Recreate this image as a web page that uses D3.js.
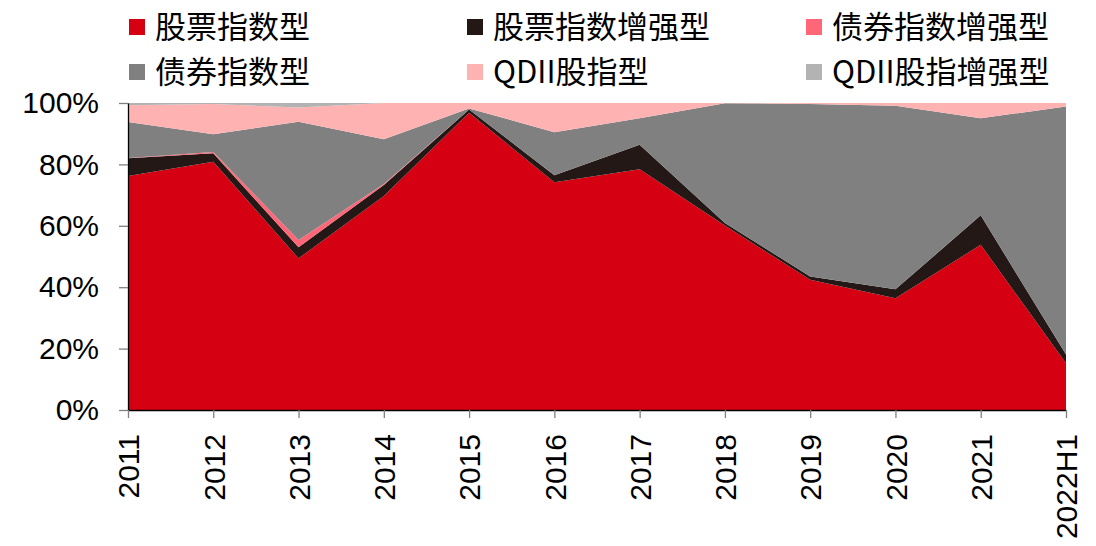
<!DOCTYPE html>
<html>
<head>
<meta charset="utf-8">
<script src="https://cdn.jsdelivr.net/npm/d3@7"></script>
<style>
  html, body { margin: 0; padding: 0; background: #fff; }
  svg { display: block; }
</style>
</head>
<body>
<div id="chart"></div>
<script>
// 年份
var years = ['2011','2012','2013','2014','2015','2016','2017','2018','2019','2020','2021','2022H1'];

// 各类型占比(%)
var stockIndex      = [76.2, 80.9, 49.4, 69.7, 96.8, 74.2, 78.4, 60.1, 42.4, 36.4, 53.8, 15.2];
var stockEnhanced   = [5.8, 2.7, 3.6, 3.6, 1.1, 2.3, 8.0, 0.8, 1.1, 2.9, 9.6, 2.9];
var bondEnhanced    = [0.1, 0.4, 2.4, 0.3, 0, 0, 0, 0, 0, 0, 0, 0];
var bondIndex       = [11.7, 5.8, 38.5, 14.6, 0.3, 14.0, 8.6, 39.0, 56.2, 59.8, 31.6, 80.8];
var qdiiIndex       = [5.5, 9.9, 4.6, 11.8, 1.8, 9.5, 5.0, 0.1, 0.3, 0.9, 5.0, 1.1];
var qdiiEnhanced    = [0.7, 0.3, 1.5, 0, 0, 0, 0, 0, 0, 0, 0, 0];

var seriesNames = ['股票指数型','股票指数增强型','债券指数增强型','债券指数型','QDII股指型','QDII股指增强型'];
var seriesValues = [stockIndex, stockEnhanced, bondEnhanced, bondIndex, qdiiIndex, qdiiEnhanced];
var colors = ['#d50011','#231815','#ff6677','#808080','#ffb2b2','#b3b3b3'];

var yTicks = [0, 0.2, 0.4, 0.6, 0.8, 1];

var width = 1096;
var height = 546;
var plotLeft = 128, plotRight = 1066, plotTop = 103, plotBottom = 410;

var svg = d3.select('#chart').append('svg')
    .attr('width', width)
    .attr('height', height);

// 组装成 stack 需要的表
var table = years.map(function(y, i) {
  var row = { year: y };
  seriesNames.forEach(function(name, k) { row[name] = seriesValues[k][i]; });
  return row;
});

var stack = d3.stack()
    .keys(seriesNames)
    .offset(d3.stackOffsetExpand);
var layers = stack(table);

var xScale = d3.scalePoint()
    .domain(years)
    .range([plotLeft, plotRight])
    .padding(0);

var yScale = d3.scaleLinear()
    .domain([0, 1])
    .range([plotBottom, plotTop]);

var area = d3.area()
    .x(function(d) { return xScale(d.data.year); })
    .y0(function(d) { return yScale(d[0]); })
    .y1(function(d) { return yScale(d[1]); });

// 面积
svg.append('g')
  .selectAll('path')
  .data(layers)
  .enter()
  .append('path')
  .attr('d', area)
  .attr('fill', function(d, i) { return colors[i]; });

// y轴
var axisY = d3.axisLeft(yScale)
    .tickValues(yTicks)
    .tickFormat(d3.format('.0%'))
    .tickSizeInner(9)
    .tickSizeOuter(0)
    .tickPadding(20);

var gy = svg.append('g')
    .attr('transform', 'translate(' + plotLeft + ',0)')
    .call(axisY);

// x轴
var axisX = d3.axisBottom(xScale)
    .tickSizeInner(8)
    .tickSizeOuter(0)
    .tickPadding(16);

var gx = svg.append('g')
    .attr('transform', 'translate(0,' + plotBottom + ')')
    .call(axisX);

gx.selectAll('text')
    .attr('transform', 'rotate(-90)')
    .attr('x', -24)
    .attr('y', 0)
    .attr('dy', '0.36em')
    .attr('text-anchor', 'end');

[gx, gy].forEach(function(g) {
  g.select('.domain').attr('stroke', '#000').attr('stroke-width', 1.3);
  g.selectAll('.tick line').attr('stroke', '#808080').attr('stroke-width', 1.3);
  g.selectAll('text')
    .attr('fill', '#000')
    .style('font-family', '"Liberation Sans", Arial, sans-serif')
    .style('font-size', '30px');
});

// 图例
var legendX = [129, 467, 806];
var legendY = [19, 64];
var legend = svg.append('g');
seriesNames.forEach(function(name, i) {
  var col = i % 3, row = Math.floor(i / 3);
  var g = legend.append('g')
      .attr('transform', 'translate(' + legendX[col] + ',' + legendY[row] + ')');
  g.append('rect')
    .attr('width', 16)
    .attr('height', 16)
    .attr('fill', colors[i]);
  g.append('text')
    .attr('x', 26)
    .attr('y', 19)
    .style('font-family', '"Noto Sans CJK SC", "Liberation Sans", sans-serif')
    .style('font-size', '31px')
    .attr('fill', '#000')
    .text(name);
});
</script>
</body>
</html>
